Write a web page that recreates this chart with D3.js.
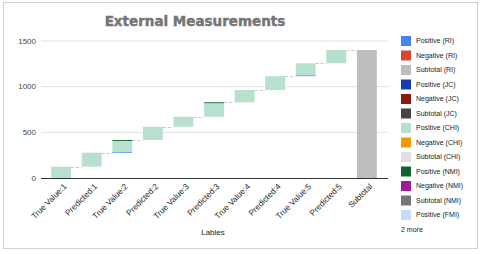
<!DOCTYPE html>
<html>
<head>
<meta charset="utf-8">
<script src="https://cdn.jsdelivr.net/npm/d3@7"></script>
<style>
  body { margin: 0; background: #fff; }
  svg { display: block; font-family: Arial, "Liberation Sans", sans-serif; }
</style>
</head>
<body>
<svg id="chart" width="480" height="254"></svg>
<script>
// datos
const categorias = ["True Value:1", "Predicted:1", "True Value:2", "Predicted:2", "True Value:3",
    "Predicted:3", "True Value:4", "Predicted:4", "True Value:5", "Predicted:5", "Subtotal"];
const valoresRI = [0, 0, 10, 0, 0, 0, 0, 0, 10, 0];
const valoresCHI = [124, 153, 119, 145, 110, 148, 134, 152, 131, 145];
const valoresNMI = [0, 0, 10, 0, 0, 10, 0, 0, 0, 0];
const ticksY = [0, 500, 1000, 1500];
const leyenda = ["Positive (RI)", "Negative (RI)", "Subtotal (RI)", "Positive (JC)", "Negative (JC)",
    "Subtotal (JC)", "Positive (CHI)", "Negative (CHI)", "Subtotal (CHI)", "Positive (NMI)",
    "Negative (NMI)", "Subtotal (NMI)", "Positive (FMI)"];
const coloresLeyenda = ["#4285f4", "#db4437", "#bdbdbd", "#1a3bb0", "#8c1a10", "#454545",
    "#b7e1cd", "#f29900", "#e0e0e0", "#0d652d", "#9c1c9c", "#757575", "#c6dafc"];

const svg = d3.select("#chart");

// marco exterior
svg.append("rect")
    .attr("x", 3.5).attr("y", 2.5)
    .attr("width", 474).attr("height", 246)
    .style("fill", "#fff")
    .style("stroke", "#d0d0d0");

svg.append("text")
    .text("External Measurements")
    .attr("x", 195).attr("y", 25.5)
    .attr("text-anchor", "middle")
    .style("font-family", "'DejaVu Sans', sans-serif")
    .style("font-weight", "bold")
    .style("font-size", "13.5px")
    .style("fill", "#757575")
    .style("stroke", "#757575")
    .style("stroke-width", 0.45);

let x = d3.scaleBand().domain(categorias).range([46, 382]).paddingInner(0.35).paddingOuter(0.17);
let y = d3.scaleLinear().domain([0, 1500]).range([178, 41]);

// lineas de la cuadricula
svg.selectAll(".grid")
    .data(ticksY.filter(d => d > 0))
    .enter()
    .append("line")
    .attr("x1", 41).attr("x2", 388)
    .attr("y1", d => y(d)).attr("y2", d => y(d))
    .style("stroke", "#e0e0e0")
    .style("stroke-width", 1);

svg.selectAll(".tickY")
    .data(ticksY)
    .enter()
    .append("text")
    .text(d => d)
    .attr("x", 36).attr("y", d => y(d))
    .attr("dy", "0.35em")
    .attr("text-anchor", "end")
    .style("font-size", "8px")
    .style("fill", "#444");

// construir segmentos del waterfall
let segmentos = [];
let conectores = [];
let total = 0;
for (let i = 0; i < valoresCHI.length; i++) {
    let inicio = total;
    [[valoresRI[i], "#4285f4"], [valoresCHI[i], "#b7e1cd"], [valoresNMI[i], "#0d652d"]].forEach(([v, c]) => {
        if (v > 0) {
            segmentos.push({cat: categorias[i], y0: total, y1: total + v, color: c});
            total += v;
        }
    });
    if (i > 0) conectores.push({from: categorias[i - 1], to: categorias[i], v: inicio});
}
conectores.push({from: categorias[valoresCHI.length - 1], to: "Subtotal", v: total});
segmentos.push({cat: "Subtotal", y0: 0, y1: total, color: "#bdbdbd"});

svg.selectAll(".conector")
    .data(conectores)
    .enter()
    .append("line")
    .attr("x1", d => x(d.from) + x.bandwidth())
    .attr("x2", d => x(d.to))
    .attr("y1", d => Math.round(y(d.v)) + 0.5)
    .attr("y2", d => Math.round(y(d.v)) + 0.5)
    .style("stroke", "#c8c8c8")
    .style("stroke-dasharray", "3,2");

svg.selectAll(".barra")
    .data(segmentos)
    .enter()
    .append("rect")
    .attr("x", d => x(d.cat))
    .attr("width", x.bandwidth())
    .attr("y", d => y(d.y1))
    .attr("height", d => y(d.y0) - y(d.y1))
    .style("fill", d => d.color);

// eje en cero
svg.append("line")
    .attr("x1", 41).attr("x2", 388)
    .attr("y1", y(0) + 0.5).attr("y2", y(0) + 0.5)
    .style("stroke", "#333");

svg.selectAll(".tickX")
    .data(categorias)
    .enter()
    .append("text")
    .text(d => d)
    .attr("transform", d => `translate(${x(d) + x.bandwidth() / 2 + 4},${185}) rotate(-45)`)
    .attr("text-anchor", "end")
    .attr("dy", "0.35em")
    .style("font-size", "8.2px")
    .style("fill", "#222");

svg.append("text")
    .text("Lables")
    .attr("x", 213).attr("y", 235)
    .attr("text-anchor", "middle")
    .style("font-size", "8px")
    .style("fill", "#222");

// leyenda
let filas = svg.selectAll(".leyenda")
    .data(leyenda)
    .enter()
    .append("g")
    .attr("transform", (d, i) => `translate(401,${41 + i * 14.5})`);

filas.append("rect")
    .attr("x", 0).attr("y", -5)
    .attr("width", 10).attr("height", 10)
    .style("fill", (d, i) => coloresLeyenda[i]);

filas.append("text")
    .text(d => d)
    .attr("x", 15).attr("dy", "0.35em")
    .style("font-size", "7px")
    .style("fill", "#222");

svg.append("text")
    .text("2 more")
    .attr("x", 401).attr("y", 41 + 13 * 14.5)
    .attr("dy", "0.35em")
    .style("font-size", "7px")
    .style("fill", "#222");
</script>
</body>
</html>
